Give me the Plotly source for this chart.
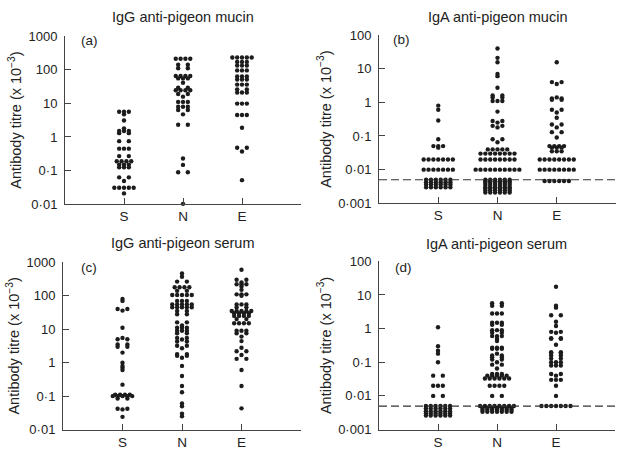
import plotly.graph_objects as go

CATS = ["S", "N", "E"]

# (a) IgG anti-pigeon mucin
a_S = [5.6, 5.6, 5.6, 4.7, 3.1, 1.8, 1.5, 1.5, 1.5, 1.3, 1.3, 0.75, 0.75,
       0.45, 0.45, 0.45, 0.27, 0.27, 0.19, 0.19, 0.19, 0.19, 0.15, 0.15, 0.15,
       0.125, 0.125, 0.125, 0.063, 0.063, 0.049,
       0.031, 0.031, 0.031, 0.031, 0.031, 0.021]
a_N = [210, 210, 210, 210, 140, 140, 110, 110, 65, 65, 65, 65, 55, 55, 55, 41,
       29, 29, 24.5, 24.5, 24.5, 24.5, 19, 19, 15.8, 11, 11, 11, 7.9, 7.9, 7.9,
       6.3, 6.3, 4.7, 2.3, 2.3, 0.23, 0.148, 0.089, 0.089, 0.0103]
a_E = [229, 229, 229, 229, 229, 170, 170, 170, 132, 132, 132, 95, 95, 95,
       63, 63, 63, 51, 51, 51, 36, 36, 36, 26, 26, 21, 21, 21, 9.8, 9.8, 9.8,
       4.5, 4.5, 4.5, 1.87, 0.48, 0.48, 0.37, 0.052]

# (b) IgA anti-pigeon mucin
b_S = [0.8, 0.6, 0.29, 0.08, 0.05, 0.05, 0.05, 0.045] + [0.02] * 7 + [0.01] * 7 \
    + [0.005] * 6 + [0.0042] * 6 + [0.0036] * 6 + [0.003] * 6
b_N = [40, 21, 15.6, 7, 6, 2.7, 1.6, 1.6, 1.4, 1.4, 1.1, 1.1, 1.1, 0.53,
       0.28, 0.28, 0.25, 0.2, 0.2, 0.18, 0.08, 0.08, 0.065] \
    + [0.04] * 5 + [0.03] * 8 + [0.02] * 8 + [0.01] * 10 \
    + [0.005] * 6 + [0.0045] * 6 + [0.004] * 6 + [0.0035] * 6 + [0.003] * 6 \
    + [0.0027] * 6 + [0.0024] * 6 + [0.0021] * 6
b_E = [15.6, 4, 4, 3.5, 1.4, 1.3, 1.3, 1.2, 1.2, 0.6, 0.6, 0.5, 0.35, 0.22, 0.22,
       0.18, 0.13, 0.13, 0.09] + [0.05] * 4 + [0.045] * 3 + [0.035] * 3 \
    + [0.02] * 8 + [0.01] * 8 + [0.0046] * 6

# (c) IgG anti-pigeon serum
c_S = [80, 70, 40, 40, 36, 11, 5.5, 5, 5, 3.5, 3.5, 3, 3, 2, 1, 0.8, 0.7, 0.6,
       0.22] + [0.11] * 4 + [0.1] * 5 + [0.085] * 2 + [0.042] * 2 + [0.04, 0.024]
c_N = [460, 370, 265, 265] + [180] * 4 + [140] * 2 + [105] * 5 + [70] * 3 \
    + [55] * 5 + [45] * 5 + [35] * 2 + [28] * 2 + [16] * 2 + [13] + [11] * 3 \
    + [9] * 3 + [7.5] * 2 + [5.5] * 2 + [4.9] + [4.3] * 2 + [3.2] * 2 + [2.7] \
    + [1.8] * 2 + [1.6] * 2 + [1.4, 0.8, 0.4, 0.2, 0.13, 0.06, 0.05, 0.03, 0.025]
c_E = [600, 300, 300, 250, 220, 220, 220, 190, 150, 110, 110, 110, 100,
       55, 55, 55, 45, 45] + [35] * 5 + [30] * 4 + [25] * 4 + [20] * 2 \
    + [15] * 4 + [9] * 3 + [7.5] * 2 + [6, 4.4, 2.8, 2.2, 2.2, 1.7, 1.3, 1.3,
                                        0.6, 0.2, 0.043]

# (d) IgA anti-pigeon serum
d_S = [1.1, 0.3, 0.22, 0.18, 0.1, 0.04, 0.04, 0.02, 0.02, 0.02, 0.01, 0.01] \
    + [0.005] * 6 + [0.0042] * 6 + [0.0035] * 6 + [0.003] * 6 + [0.0026] * 6
d_N = [5.7, 5.7, 4.8, 4.8, 2.8, 2.8, 2.8, 1.5, 1.5, 1.5, 1.3, 1.3, 0.9, 0.9,
       0.9, 0.75, 0.75, 0.6, 0.6, 0.6, 0.5, 0.43, 0.27, 0.27, 0.27, 0.25, 0.25,
       0.25, 0.18, 0.16, 0.16, 0.14, 0.14, 0.12, 0.12, 0.1, 0.085, 0.085, 0.065] \
    + [0.045] * 3 + [0.04] * 5 + [0.033] * 6 + [0.02] * 4 + [0.01] * 2 \
    + [0.005] * 8 + [0.0044] * 7 + [0.0039] * 7 + [0.0034] * 7
d_E = [17.6, 4.8, 4.2, 2.5, 2.5, 1.6, 1.2, 0.8, 0.8, 0.75, 0.52, 0.52, 0.5, 0.5,
       0.33, 0.2, 0.2, 0.19, 0.19, 0.16, 0.16, 0.13, 0.13, 0.1, 0.1, 0.1,
       0.08, 0.08, 0.08, 0.045, 0.045, 0.04, 0.03, 0.03, 0.03, 0.02, 0.01] \
    + [0.005] * 7

DETECTION_LIMIT = 0.005

IGG_TICKS = [0.01, 0.1, 1, 10, 100, 1000]
IGG_TEXT = ["0·01", "0·1", "1", "10", "100", "1000"]
IGA_TICKS = [0.001, 0.01, 0.1, 1, 10, 100]
IGA_TEXT = ["0·001", "0·01", "0·1", "1", "10", "100"]

W, H = 624, 454
FONT = "Liberation Sans, Arial, sans-serif"
INK = "#1c1c1c"


def swarm(values, center, step=0.082):
    # put equal values side by side in a row, centred on the category
    counts = {}
    for v in values:
        counts[v] = counts.get(v, 0) + 1
    xs, ys = [], []
    for v, n in counts.items():
        if n == 2:
            offs = [-step, step]
        else:
            offs = [(i - (n - 1) / 2) * step for i in range(n)]
        for o in offs:
            xs.append(center + o)
            ys.append(v)
    return xs, ys


panels = [
    dict(cols=[a_S, a_N, a_E], title="IgG anti-pigeon mucin", tag="(a)",
         xpx=(65, 301), ypx=(30, 204), yr=[-2, 3], tv=IGG_TICKS, tt=IGG_TEXT,
         title_y=10, tag_x=79, tag_y=35, dashed=False),
    dict(cols=[b_S, b_N, b_E], title="IgA anti-pigeon mucin", tag="(b)",
         xpx=(379, 616), ypx=(29, 203), yr=[-3, 2], tv=IGA_TICKS, tt=IGA_TEXT,
         title_y=10, tag_x=391, tag_y=34, dashed=True),
    dict(cols=[c_S, c_N, c_E], title="IgG anti-pigeon serum", tag="(c)",
         xpx=(63, 301), ypx=(264, 437), yr=[-2, 3], tv=IGG_TICKS, tt=IGG_TEXT,
         title_y=244, tag_x=79, tag_y=269, dashed=False),
    dict(cols=[d_S, d_N, d_E], title="IgA anti-pigeon serum", tag="(d)",
         xpx=(379, 615), ypx=(263, 437), yr=[-3, 2], tv=IGA_TICKS, tt=IGA_TEXT,
         title_y=245, tag_x=393, tag_y=269, dashed=True),
]

fig = go.Figure()
annotations = []
layout = {}

for k, p in enumerate(panels, start=1):
    xname = "x" if k == 1 else "x%d" % k
    yname = "y" if k == 1 else "y%d" % k
    for i, col in enumerate(p["cols"]):
        xs, ys = swarm(col, i + 1)
        fig.add_trace(go.Scatter(
            x=xs, y=ys, mode="markers", xaxis=xname, yaxis=yname,
            marker=dict(size=4.4, color=INK, line=dict(width=0)),
            cliponaxis=False, hoverinfo="y"))
    if p["dashed"]:
        fig.add_trace(go.Scatter(
            x=[0, 4], y=[DETECTION_LIMIT, DETECTION_LIMIT], mode="lines",
            xaxis=xname, yaxis=yname,
            line=dict(color="#333", width=1.2, dash="8px,4px"),
            hoverinfo="skip"))

    x0, x1 = p["xpx"]
    yt, yb = p["ypx"]
    xkey = "xaxis" if k == 1 else "xaxis%d" % k
    ykey = "yaxis" if k == 1 else "yaxis%d" % k
    layout[xkey] = dict(
        domain=[x0 / W, x1 / W], range=[0, 4], anchor=yname,
        tickvals=[1, 2, 3], ticktext=CATS,
        ticks="inside", ticklen=6, tickcolor="#444",
        minor=dict(tickvals=[4], ticks="inside", ticklen=6, tickcolor="#444"),
        showline=True, linecolor="#444", linewidth=1,
        showgrid=False, zeroline=False,
        tickfont=dict(size=13.5, color="#222", family=FONT))
    layout[ykey] = dict(
        domain=[1 - yb / H, 1 - yt / H], type="log", range=p["yr"],
        anchor=xname, tickvals=p["tv"], ticktext=p["tt"],
        ticks="inside", ticklen=6, tickcolor="#444",
        showline=True, linecolor="#444", linewidth=1,
        showgrid=False, zeroline=False, ticklabelstandoff=4,
        tickfont=dict(size=13, color="#222", family=FONT),
        title=dict(text="Antibody titre (x 10<sup>−3</sup>)", standoff=3,
                   font=dict(size=14.5, color="#222", family=FONT)))

    annotations.append(dict(
        text=p["title"], xref="paper", yref="paper",
        x=(x0 + x1) / 2 / W, y=1 - p["title_y"] / H,
        xanchor="center", yanchor="middle", showarrow=False,
        font=dict(size=14.5, color="#222", family=FONT)))
    annotations.append(dict(
        text=p["tag"], xref="paper", yref="paper",
        x=p["tag_x"] / W, y=1 - p["tag_y"] / H,
        xanchor="left", yanchor="middle", showarrow=False,
        font=dict(size=13.5, color="#222", family=FONT)))

fig.update_layout(
    width=W, height=H,
    margin=dict(l=0, r=0, t=0, b=0),
    paper_bgcolor="white", plot_bgcolor="white",
    showlegend=False,
    annotations=annotations,
    **layout)

# the page's default body margin would push the figure off the window
fig.write_html("out.html",
               config={"displayModeBar": False},
               post_script="document.body.style.margin = '0';")
